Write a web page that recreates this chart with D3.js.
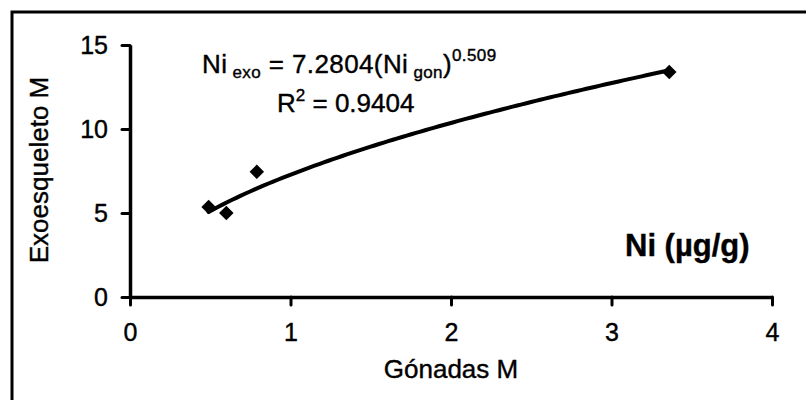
<!DOCTYPE html>
<html>
<head>
<meta charset="utf-8">
<script src="https://cdn.jsdelivr.net/npm/d3@7"></script>
<style>
  html, body { margin: 0; padding: 0; background: #fff; }
  svg { display: block; }
  text { font-family: "Liberation Sans", Arial, sans-serif; fill: #000; stroke: #000; stroke-width: 0.4px; }
</style>
</head>
<body>
<svg id="chart" width="806" height="400"></svg>
<script>
// Ni concentration: gonads (x) vs exoskeleton (y), males
const gonadas = [0.49, 0.60, 0.79, 3.36];
const exoesqueleto = [5.35, 5.0, 7.45, 13.4];
const xTicks = [0, 1, 2, 3, 4];
const yTicks = [0, 5, 10, 15];

// power trendline y = a * x^b
const fitA = 7.2804;
const fitB = 0.509;
const fitR2 = 0.9404;

const svg = d3.select("#chart");

// outer frame
svg.append("rect")
  .attr("x", 12).attr("y", 12)
  .attr("width", 800).attr("height", 400)
  .attr("fill", "none").attr("stroke", "#000").attr("stroke-width", 3);

const x = d3.scaleLinear().domain([0, 4]).range([130, 772]);
const y = d3.scaleLinear().domain([0, 15]).range([297, 45]);

const xAxis = svg.append("g")
  .attr("transform", `translate(0,${y(0)})`)
  .call(d3.axisBottom(x).tickValues(xTicks).tickFormat(d3.format("d"))
    .tickSizeInner(8).tickSizeOuter(0).tickPadding(18));
const yAxis = svg.append("g")
  .attr("transform", `translate(${x(0)},0)`)
  .call(d3.axisLeft(y).tickValues(yTicks).tickFormat(d3.format("d"))
    .tickSizeInner(8).tickSizeOuter(0).tickPadding(14));

[xAxis, yAxis].forEach(g => {
  g.select(".domain").attr("stroke", "#000").attr("stroke-width", 3.5);
  g.selectAll(".tick line").attr("stroke", "#000").attr("stroke-width", 3).attr("stroke-linecap", "round");
  g.selectAll(".tick text").attr("font-size", 25).attr("font-family", "Liberation Sans, Arial, sans-serif").attr("fill", "#000");
});

// trendline across the data range
const xmin = d3.min(gonadas), xmax = d3.max(gonadas);
const curvePts = d3.range(0, 101).map(i => {
  const xv = xmin + (xmax - xmin) * i / 100;
  return [xv, fitA * Math.pow(xv, fitB)];
});
svg.append("path")
  .attr("d", d3.line().x(d => x(d[0])).y(d => y(d[1]))(curvePts))
  .attr("fill", "none").attr("stroke", "#000").attr("stroke-width", 4)
  .attr("stroke-linecap", "round");

// data markers
const diamond = d3.symbol(d3.symbolSquare, 105);
svg.append("g").selectAll("path")
  .data(gonadas.map((g, i) => [g, exoesqueleto[i]]))
  .join("path")
  .attr("d", diamond)
  .attr("transform", d => `translate(${x(d[0])},${y(d[1])}) rotate(45)`)
  .attr("fill", "#000");

// trendline equation
const eq = svg.append("text").attr("x", 202).attr("y", 73).attr("font-size", 26)
  .attr("letter-spacing", 0.4);
eq.append("tspan").text("Ni");
eq.append("tspan").attr("font-size", 17).attr("dy", 5).text(" exo");
eq.append("tspan").attr("dy", -5).text(" = 7.2804(Ni");
eq.append("tspan").attr("font-size", 17).attr("dy", 5).text(" gon");
eq.append("tspan").attr("dy", -5).text(")");
eq.append("tspan").attr("font-size", 17).attr("dy", -12).text(fitB.toFixed(3));

const r2 = svg.append("text").attr("x", 277).attr("y", 112).attr("font-size", 26);
r2.append("tspan").text("R");
r2.append("tspan").attr("font-size", 17).attr("dy", -11).text("2");
r2.append("tspan").attr("dy", 11).text(" = " + fitR2.toFixed(4));

// element label
svg.append("text").attr("x", 625).attr("y", 256)
  .attr("font-size", 31).attr("font-weight", "bold")
  .text("Ni (\u00B5g/g)");

// axis titles
svg.append("text").attr("x", 451).attr("y", 378)
  .attr("text-anchor", "middle").attr("font-size", 26)
  .text("Gónadas M");
svg.append("text")
  .attr("transform", "translate(48,170) rotate(-90)")
  .attr("text-anchor", "middle").attr("font-size", 26)
  .text("Exoesqueleto M");
</script>
</body>
</html>
